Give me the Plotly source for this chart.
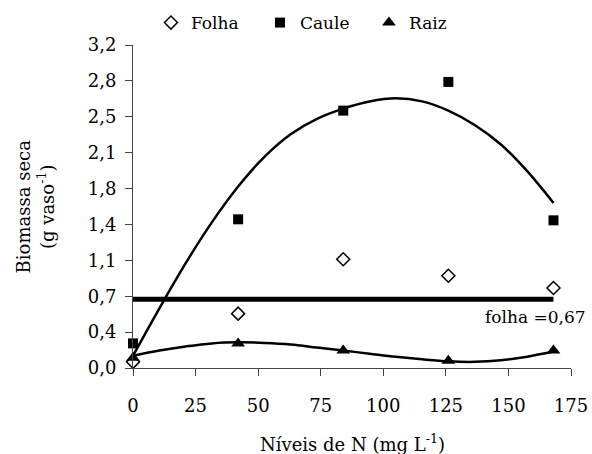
import plotly.graph_objects as go

# Data
niveis_n = [0, 42, 84, 126, 168]
folha = [0.06, 0.53, 1.06, 0.90, 0.78]
caule = [0.24, 1.45, 2.51, 2.79, 1.44]
raiz = [0.10, 0.24, 0.17, 0.07, 0.17]

folha_media = 0.67
fit_x = [0, 10.5, 21, 31.5, 42, 52.5, 63, 73.5, 84, 94.5, 105, 115.5, 126, 136.5, 147, 157.5, 168]
caule_fit = [0.12, 0.58, 1.02, 1.42, 1.77, 2.06, 2.28, 2.43, 2.53, 2.60, 2.63, 2.60, 2.51, 2.37, 2.18, 1.92, 1.61]
raiz_fit = [0.12, 0.17, 0.21, 0.24, 0.25, 0.245, 0.23, 0.20, 0.17, 0.14, 0.11, 0.085, 0.065, 0.06, 0.075, 0.11, 0.16]

y_tickvals = [0, 0.35, 0.7, 1.05, 1.4, 1.75, 2.1, 2.45, 2.8, 3.15]
y_ticktext = ["0,0", "0,4", "0,7", "1,1", "1,4", "1,8", "2,1", "2,5", "2,8", "3,2"]
x_tickvals = [0, 25, 50, 75, 100, 125, 150, 175]

FONT = "DejaVu Serif"

fig = go.Figure()

# Trend lines
fig.add_trace(go.Scatter(x=[fit_x[0], fit_x[-1]], y=[folha_media, folha_media], mode="lines",
                         line=dict(color="black", width=5), showlegend=False, hoverinfo="skip"))
fig.add_trace(go.Scatter(x=fit_x, y=caule_fit, mode="lines", line=dict(color="black", width=2.5, shape="spline"),
                         showlegend=False, hoverinfo="skip"))
fig.add_trace(go.Scatter(x=fit_x, y=raiz_fit, mode="lines", line=dict(color="black", width=2.5, shape="spline"),
                         showlegend=False, hoverinfo="skip"))

# Points
fig.add_trace(go.Scatter(x=niveis_n, y=folha, mode="markers", name="Folha", cliponaxis=False,
                         marker=dict(symbol="diamond-open", size=10, color="black", line=dict(width=1.5, color="black"))))
fig.add_trace(go.Scatter(x=niveis_n, y=caule, mode="markers", name="Caule", cliponaxis=False,
                         marker=dict(symbol="square", size=10, color="black")))
fig.add_trace(go.Scatter(x=niveis_n, y=raiz, mode="markers", name="Raiz", cliponaxis=False,
                         marker=dict(symbol="triangle-up", size=12, color="black")))

fig.update_layout(
    width=592, height=454,
    margin=dict(l=132.5, r=21, t=45, b=86, autoexpand=False),
    paper_bgcolor="white", plot_bgcolor="white",
    font=dict(family=FONT, size=18, color="black"),
    showlegend=True,
    legend=dict(orientation="h", x=0.041, y=1.068, xanchor="left", yanchor="middle",
                font=dict(family=FONT, size=17, color="black"),
                entrywidth=64, entrywidthmode="pixels", itemwidth=30,
                bgcolor="rgba(0,0,0,0)"),
    xaxis=dict(range=[0, 175], tickvals=x_tickvals, ticks="outside", ticklen=7, tickcolor="#444",
               showline=True, linecolor="#444", linewidth=1, showgrid=False, zeroline=False,
               tickfont=dict(family=FONT, size=18), ticklabelstandoff=14),
    yaxis=dict(range=[0, 3.15], tickvals=y_tickvals, ticktext=y_ticktext, ticks="outside", ticklen=7,
               tickcolor="#444", showline=True, linecolor="#444", linewidth=1, showgrid=False,
               zeroline=False, tickfont=dict(family=FONT, size=18), ticklabelstandoff=5),
    annotations=[
        dict(text="Níveis de N (mg L<sup>-1</sup>)", xref="paper", yref="paper", x=0.5, y=-0.232,
             xanchor="center", yanchor="middle", showarrow=False, font=dict(family=FONT, size=18)),
        dict(text="Biomassa seca<br>(g vaso<sup>-1</sup>)", xref="paper", yref="paper", x=-0.224, y=0.5,
             xanchor="center", yanchor="middle", textangle=-90, showarrow=False,
             font=dict(family=FONT, size=18)),
        dict(text="folha =0,67", xref="paper", yref="paper", x=1.039, y=0.158, xanchor="right",
             yanchor="middle", showarrow=False, font=dict(family=FONT, size=17)),
    ],
)

fig.write_html("out.html")
